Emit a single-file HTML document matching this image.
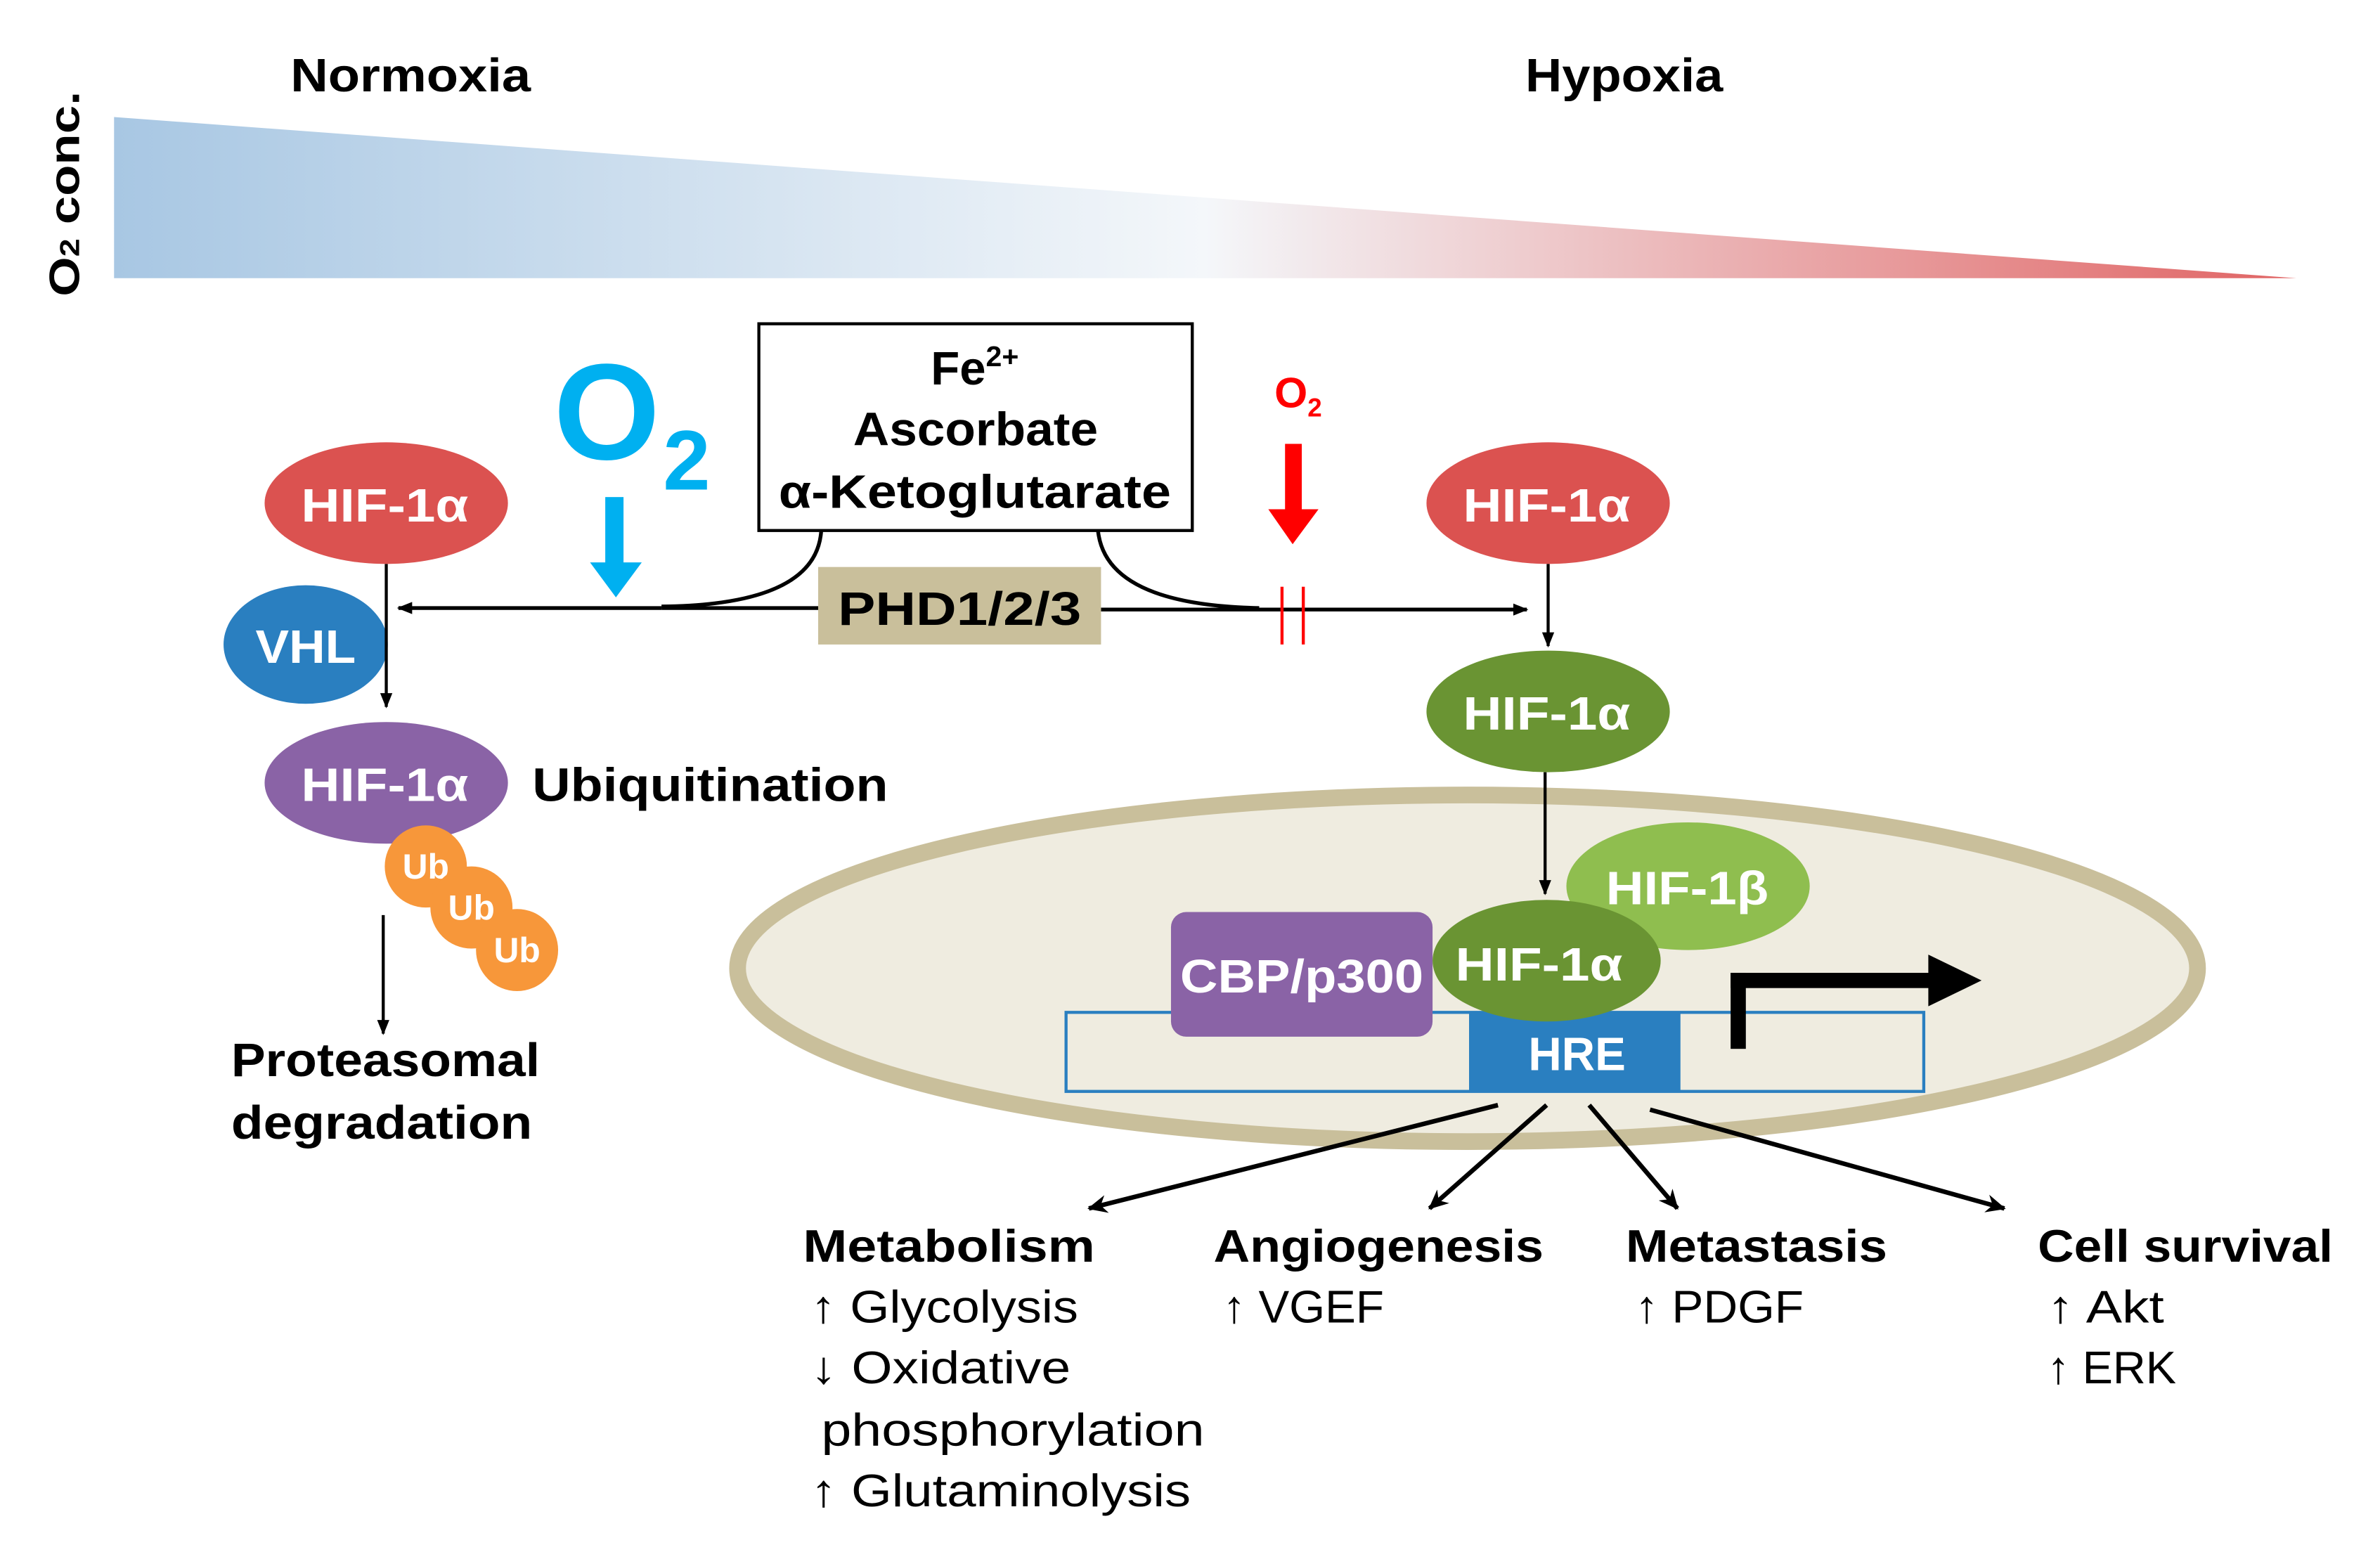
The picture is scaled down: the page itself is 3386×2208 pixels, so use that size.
<!DOCTYPE html>
<html><head><meta charset="utf-8"><style>html,body{margin:0;padding:0;background:#fff}svg{display:block}</style></head><body>
<svg width="3386" height="2208" viewBox="0 0 1565 1021" preserveAspectRatio="none" xmlns="http://www.w3.org/2000/svg" font-family="Liberation Sans, sans-serif">
<defs>
<linearGradient id="g" x1="75" y1="0" x2="1510" y2="0" gradientUnits="userSpaceOnUse">
<stop offset="0" stop-color="#a8c7e3"/><stop offset="0.5" stop-color="#f4f7fa"/><stop offset="1" stop-color="#e06464"/>
</linearGradient>
<marker id="a" markerWidth="10" markerHeight="10" refX="9" refY="5" orient="auto" markerUnits="userSpaceOnUse"><path d="M0,1 L10,5 L0,9 Z" fill="#000"/></marker>
<marker id="a2" markerWidth="14" markerHeight="14" refX="12" refY="7" orient="auto" markerUnits="userSpaceOnUse"><path d="M0,1 L13,7 L0,13 L4,7 Z" fill="#000"/></marker>
</defs>
<text x="191" y="60" font-size="31" font-weight="bold" textLength="158" lengthAdjust="spacingAndGlyphs">Normoxia</text>
<text x="1003" y="60" font-size="31" font-weight="bold" textLength="130" lengthAdjust="spacingAndGlyphs">Hypoxia</text>
<text transform="translate(52,195) rotate(-90)" font-size="28" font-weight="bold" textLength="135" lengthAdjust="spacingAndGlyphs">O<tspan font-size="18" dy="0">2</tspan> conc.</text>
<polygon points="75,77 1510,183 75,183" fill="url(#g)"/>
<rect x="499" y="213" width="285" height="136" fill="#fff" stroke="#000" stroke-width="2"/>
<text x="641" y="253" font-size="31" font-weight="bold" text-anchor="middle">Fe<tspan font-size="19" dy="-12">2+</tspan></text>
<text x="561" y="293" font-size="31" font-weight="bold" textLength="161" lengthAdjust="spacingAndGlyphs">Ascorbate</text>
<text x="641" y="334" font-size="31" font-weight="bold" text-anchor="middle" textLength="258" lengthAdjust="spacingAndGlyphs">α-Ketoglutarate</text>
<text x="364" y="302" font-size="90" fill="#00b0f0" font-weight="bold">O</text>
<text x="436" y="322" font-size="56" fill="#00b0f0" font-weight="bold">2</text>
<rect x="398" y="327" width="12" height="44" fill="#00b0f0"/>
<polygon points="388,370 422,370 405,393" fill="#00b0f0"/>
<text x="838" y="268" font-size="28" fill="#f00" font-weight="bold">O<tspan font-size="17" dy="6">2</tspan></text>
<rect x="845" y="292" width="11" height="44" fill="#f00"/>
<polygon points="834,335 867,335 850,358" fill="#f00"/>
<line x1="435" y1="400" x2="262" y2="400" stroke="#000" stroke-width="2.5" marker-end="url(#a)"/>
<line x1="435" y1="400" x2="540" y2="400" stroke="#000" stroke-width="2.5"/>
<line x1="724" y1="401" x2="1004" y2="401" stroke="#000" stroke-width="2.5" marker-end="url(#a)"/>
<path d="M540,349 Q537,398 435,399" fill="none" stroke="#000" stroke-width="2.5"/>
<path d="M722,349 Q727,398 828,400" fill="none" stroke="#000" stroke-width="2.5"/>
<line x1="843" y1="386" x2="843" y2="424" stroke="#f00" stroke-width="2"/>
<line x1="857" y1="386" x2="857" y2="424" stroke="#f00" stroke-width="2"/>
<rect x="538" y="373" width="186" height="51" fill="#c9bf9b"/>
<text x="551" y="411" font-size="31" font-weight="bold" textLength="160" lengthAdjust="spacingAndGlyphs">PHD1/2/3</text>
<g font-size="31" font-weight="bold" fill="#fff">
<ellipse cx="254" cy="331" rx="80" ry="40" fill="#db5250"/>
<text x="198" y="343" textLength="110" lengthAdjust="spacingAndGlyphs">HIF-1α</text>
<ellipse cx="1018" cy="331" rx="80" ry="40" fill="#db5250"/>
<text x="962" y="343" textLength="110" lengthAdjust="spacingAndGlyphs">HIF-1α</text>
<ellipse cx="201" cy="424" rx="54" ry="39" fill="#2a7fc0"/>
<text x="168" y="436" textLength="66" lengthAdjust="spacingAndGlyphs">VHL</text>
</g>
<line x1="254" y1="371" x2="254" y2="465" stroke="#000" stroke-width="2" marker-end="url(#a)"/>
<ellipse cx="254" cy="515" rx="80" ry="40" fill="#8a63a6"/>
<text x="198" y="527" font-size="31" font-weight="bold" fill="#fff" textLength="110" lengthAdjust="spacingAndGlyphs">HIF-1α</text>
<text x="350" y="527" font-size="31" font-weight="bold" textLength="234" lengthAdjust="spacingAndGlyphs">Ubiquitination</text>
<g font-size="23" font-weight="bold" fill="#fff" text-anchor="middle">
<circle cx="280" cy="570" r="27" fill="#f7973a"/>
<text x="280" y="578">Ub</text>
<circle cx="310" cy="597" r="27" fill="#f7973a"/>
<text x="310" y="605">Ub</text>
<circle cx="340" cy="625" r="27" fill="#f7973a"/>
<text x="340" y="633">Ub</text>
</g>
<line x1="252" y1="602" x2="252" y2="680" stroke="#000" stroke-width="2" marker-end="url(#a)"/>
<text x="152" y="708" font-size="31" font-weight="bold" textLength="203" lengthAdjust="spacingAndGlyphs">Proteasomal</text>
<text x="152" y="749" font-size="31" font-weight="bold" textLength="198" lengthAdjust="spacingAndGlyphs">degradation</text>
<line x1="1018" y1="371" x2="1018" y2="425" stroke="#000" stroke-width="2" marker-end="url(#a)"/>
<ellipse cx="1018" cy="468" rx="80" ry="40" fill="#6a9433"/>
<text x="962" y="480" font-size="31" font-weight="bold" fill="#fff" textLength="110" lengthAdjust="spacingAndGlyphs">HIF-1α</text>
<ellipse cx="965" cy="637" rx="480" ry="114" fill="#efece0" stroke="#c9bf9b" stroke-width="11"/>
<line x1="1016" y1="508" x2="1016" y2="588" stroke="#000" stroke-width="2" marker-end="url(#a)"/>
<rect x="701" y="666" width="564" height="52" fill="none" stroke="#2a7fc0" stroke-width="2"/>
<rect x="966" y="666" width="139" height="52" fill="#2a7fc0"/>
<text x="1005" y="704" font-size="31" font-weight="bold" fill="#fff" textLength="64" lengthAdjust="spacingAndGlyphs">HRE</text>
<ellipse cx="1110" cy="583" rx="80" ry="42" fill="#8fbe4f"/>
<text x="1056" y="595" font-size="31" font-weight="bold" fill="#fff" textLength="107" lengthAdjust="spacingAndGlyphs">HIF-1β</text>
<rect x="770" y="600" width="172" height="82" rx="10" fill="#8a63a6"/>
<ellipse cx="1017" cy="632" rx="75" ry="40" fill="#6a9433"/>
<text x="776" y="653" font-size="31" font-weight="bold" fill="#fff" textLength="160" lengthAdjust="spacingAndGlyphs">CBP/p300</text>
<text x="957" y="645" font-size="31" font-weight="bold" fill="#fff" textLength="110" lengthAdjust="spacingAndGlyphs">HIF-1α</text>
<rect x="1138" y="640" width="10" height="50" fill="#000"/>
<rect x="1138" y="640" width="132" height="10" fill="#000"/>
<polygon points="1268,628 1303,645 1268,662" fill="#000"/>
<g stroke="#000" stroke-width="3" marker-end="url(#a2)">
<line x1="985" y1="727" x2="716" y2="795"/>
<line x1="1017" y1="727" x2="940" y2="795"/>
<line x1="1045" y1="727" x2="1103" y2="795"/>
<line x1="1085" y1="730" x2="1318" y2="795"/>
</g>
<g font-size="30" font-weight="bold">
<text x="528" y="830" textLength="192" lengthAdjust="spacingAndGlyphs">Metabolism</text>
<text x="798" y="830" textLength="217" lengthAdjust="spacingAndGlyphs">Angiogenesis</text>
<text x="1069" y="830" textLength="172" lengthAdjust="spacingAndGlyphs">Metastasis</text>
<text x="1340" y="830" textLength="194" lengthAdjust="spacingAndGlyphs">Cell survival</text>
</g>
<g font-size="30">
<text x="533" y="870" textLength="176" lengthAdjust="spacingAndGlyphs">↑ Glycolysis</text>
<text x="533" y="910" textLength="171" lengthAdjust="spacingAndGlyphs">↓ Oxidative</text>
<text x="540" y="951" textLength="252" lengthAdjust="spacingAndGlyphs">phosphorylation</text>
<text x="533" y="991" textLength="250" lengthAdjust="spacingAndGlyphs">↑ Glutaminolysis</text>
<text x="804" y="870" textLength="106" lengthAdjust="spacingAndGlyphs">↑ VGEF</text>
<text x="1075" y="870" textLength="111" lengthAdjust="spacingAndGlyphs">↑ PDGF</text>
<text x="1346" y="870" textLength="77" lengthAdjust="spacingAndGlyphs">↑ Akt</text>
<text x="1346" y="910" textLength="85" lengthAdjust="spacingAndGlyphs">↑ ERK</text>
</g>
</svg>
</body></html>
